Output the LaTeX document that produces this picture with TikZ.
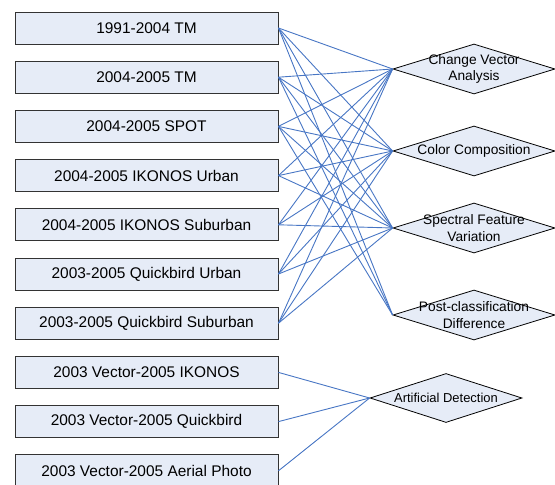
\documentclass[tikz,border=0pt]{standalone}
\usepackage{fontspec}
\setmainfont{Liberation Sans}
\usetikzlibrary{shapes.geometric}

\definecolor{boxfill}{RGB}{230,236,247}
\definecolor{linkblue}{RGB}{72,118,196}

\tikzset{
  databox/.style={draw=black!80, fill=boxfill, line width=0.9bp,
    minimum width=263bp, minimum height=32bp, inner sep=0pt,
    font=\fontsize{15.5}{18}\selectfont},
  method/.style={draw=black, fill=boxfill, shape=diamond, line width=0.8bp,
    minimum width=162bp, minimum height=50bp, inner sep=0pt},
  methodlabel/.style={align=center, inner sep=0pt,
    font=\fontsize{13.8}{16.5}\selectfont},
  link/.style={draw=linkblue, line width=0.9bp}
}

\begin{document}
\begin{tikzpicture}[x=1bp, y=-1bp]
  \useasboundingbox (0,0) rectangle (555,485);

  % Data sets
  \node[databox] (tm91)    at (146.5, 28.0)  {1991-2004 TM};
  \node[databox] (tm04)    at (146.5, 77.2)  {2004-2005 TM};
  \node[databox] (spot)    at (146.5,126.4)  {2004-2005 SPOT};
  \node[databox] (ikU)     at (146.5,175.6)  {2004-2005 IKONOS Urban};
  \node[databox] (ikS)     at (146.5,224.8)  {2004-2005 IKONOS Suburban};
  \node[databox] (qbU)     at (146.5,274.0)  {2003-2005 Quickbird Urban};
  \node[databox] (qbS)     at (146.5,323.2)  {2003-2005 Quickbird Suburban};
  \node[databox] (vikonos) at (146.5,372.4)  {2003 Vector-2005 IKONOS};
  \node[databox] (vqb)     at (146.5,421.6)  {2003 Vector-2005 Quickbird};
  \node[databox] (vaerial) at (146.5,470.8)  {2003 Vector-2005 Aerial Photo};

  % Methods
  \node[method, label={[methodlabel]center:{Change Vector\\Analysis}}] (cva) at (474,69) {};
  \node[method, label={[methodlabel]center:{Color Composition}}] (cc) at (474,151) {};
  \node[method, label={[methodlabel]center:{Spectral Feature\\Variation}}] (sfv) at (474,228) {};
  \node[method, label={[methodlabel]center:{Post-classification\\Difference}}] (pcd) at (474,315) {};
  \node[method, minimum width=152bp, minimum height=49bp,
    label={[methodlabel, font=\fontsize{13}{16}\selectfont]center:{Artificial Detection}}] (ad) at (446,398) {};

  % Links
  \foreach \s in {tm91,tm04,spot,ikU,ikS,qbU,qbS}
    \foreach \m in {cva,cc,sfv}
      \draw[link] (\s.east) -- (\m.west);
  \foreach \s in {tm91,tm04,spot}
    \draw[link] (\s.east) -- (pcd.west);
  \foreach \s in {vikonos,vqb,vaerial}
    \draw[link] (\s.east) -- (ad.west);

\end{tikzpicture}
\end{document}
